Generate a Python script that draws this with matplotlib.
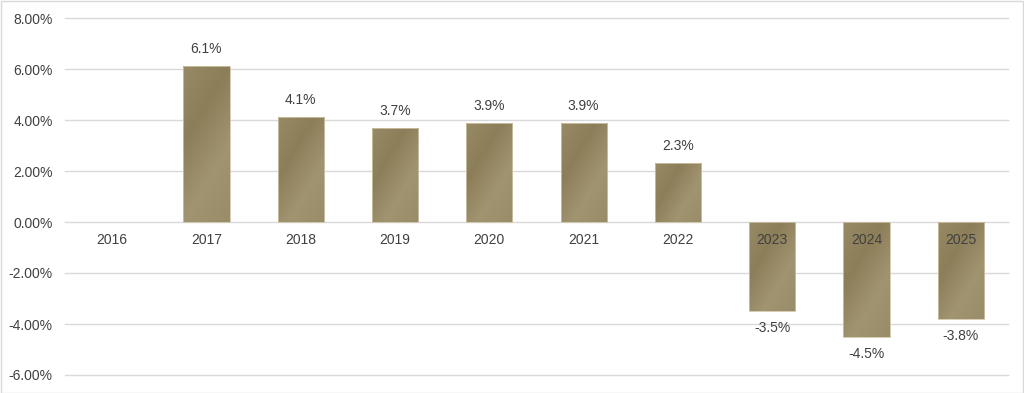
import matplotlib
matplotlib.use("Agg")
import matplotlib.pyplot as plt
import numpy as np
from matplotlib.colors import LinearSegmentedColormap
from matplotlib.ticker import FuncFormatter

years = ["2016", "2017", "2018", "2019", "2020", "2021", "2022", "2023", "2024", "2025"]
values = [0.0, 6.1, 4.1, 3.7, 3.9, 3.9, 2.3, -3.5, -4.5, -3.8]
labels = ["", "6.1%", "4.1%", "3.7%", "3.9%", "3.9%", "2.3%", "-3.5%", "-4.5%", "-3.8%"]
yticks = [-6, -4, -2, 0, 2, 4, 6, 8]

plt.rcParams['font.family'] = ['Liberation Sans', 'DejaVu Sans']
txt = '#404040'

fig = plt.figure(figsize=(10.24, 3.93), dpi=100)
ax = fig.add_axes([65/1024, 18/393, 943/1024, 357/393])
ax.set_xlim(-0.5, len(years) - 0.5)
ax.set_ylim(-6, 8)

for y in yticks:
    ax.axhline(y, color='#d9d9d9', lw=1.0, zorder=0, clip_on=False)

cmap = LinearSegmentedColormap.from_list('gold', ['#978a65', '#8c7e59', '#a19470', '#998c68'])
x = np.arange(len(years))
bars = ax.bar(x, values, width=0.49, color='none', edgecolor='#cdc4a6', lw=0.6, zorder=3)

for b in bars:
    h = b.get_height()
    if h == 0:
        b.set_edgecolor('none')
        continue
    x0, w = b.get_x(), b.get_width()
    y0 = min(b.get_y(), b.get_y() + h)
    hh = abs(h)
    ny, nx = 200, 40
    u = np.linspace(0, 1, nx)[None, :]
    v = np.linspace(1, 0, ny)[:, None]
    hpx = hh * 25.5
    t = (u * 46 + (1 - v) * hpx * 0.6)
    t = (t - t.min()) / (t.max() - t.min())
    im = ax.imshow(t, cmap=cmap, extent=[x0, x0 + w, y0, y0 + hh], aspect='auto',
                   zorder=2, interpolation='bilinear')
    im.set_clip_path(b)

for i, (v, lab) in enumerate(zip(values, labels)):
    if lab:
        off = 17 if v >= 0 else -17
        ax.annotate(lab, (i, v), xytext=(0, off), textcoords='offset pixels',
                    ha='center', va='center', fontsize=10, color=txt, zorder=5)
    ax.annotate(years[i], (i, 0), xytext=(0, -18), textcoords='offset pixels',
                ha='center', va='center', fontsize=10, color=txt, zorder=5)

ax.set_yticks(yticks)
ax.yaxis.set_major_formatter(FuncFormatter(lambda y, p: f"{y:.2f}%"))
ax.tick_params(axis='y', length=0, labelsize=10, labelcolor=txt, pad=9)
ax.set_xticks([])
for s in ax.spines.values():
    s.set_visible(False)

fig.patches.append(plt.Rectangle((0.5/1024, 0.5/393), 1 - 1.5/1024, 1 - 1.5/393, transform=fig.transFigure,
                                 fill=False, edgecolor='#d9d9d9', lw=1))
fig.savefig('out.png', dpi=100)
